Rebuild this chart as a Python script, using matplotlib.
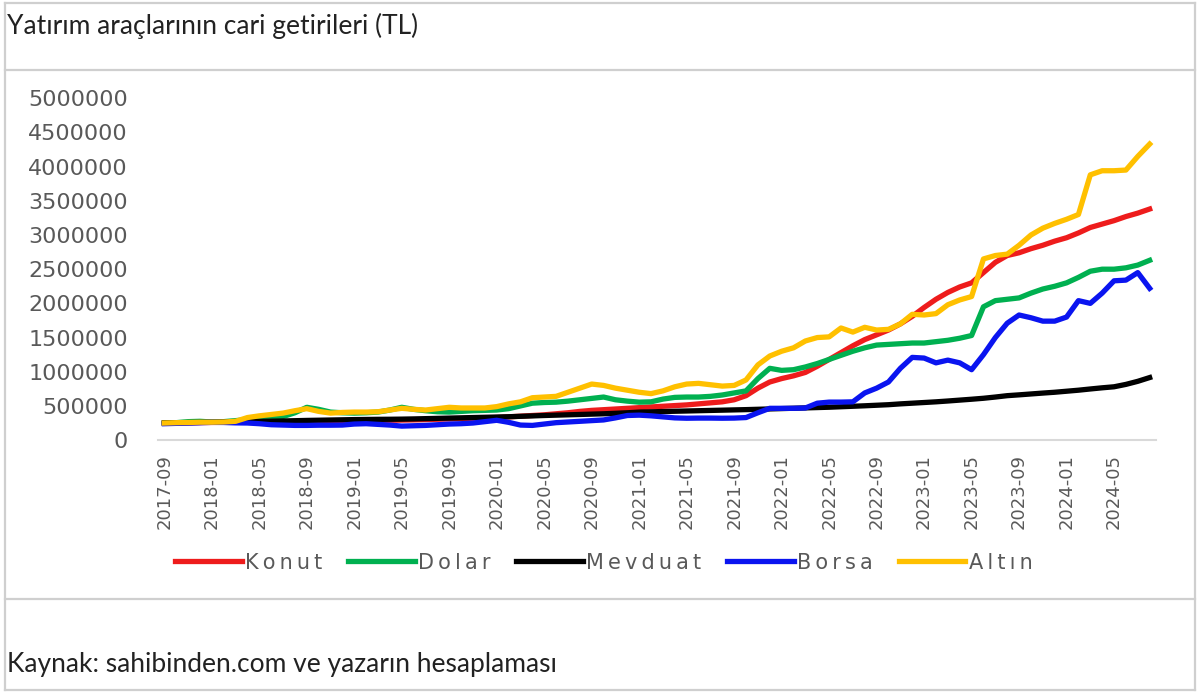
import matplotlib
matplotlib.use("Agg")
import matplotlib.pyplot as plt
import numpy as np
import pandas as pd
from matplotlib.lines import Line2D

# monthly values, 2017-09 .. 2024-08 (thousand TL)
months = pd.period_range("2017-09", periods=84, freq="M").strftime("%Y-%m").tolist()

konut = [250, 252, 254, 256, 258, 260, 262, 264, 266, 268, 270, 272, 274, 276, 278, 280,
         282, 284, 287, 290, 293, 296, 300, 305, 310, 315, 320, 325, 330, 340, 350, 360,
         370, 385, 400, 420, 435, 445, 455, 465, 475, 485, 495, 505, 515, 530, 545, 560,
         590, 650, 760, 850, 900, 940, 990, 1080, 1180, 1280, 1380, 1470, 1540, 1610, 1700, 1810,
         1940, 2060, 2160, 2240, 2300, 2450, 2600, 2700, 2740, 2800, 2850, 2910, 2960, 3030, 3110, 3160,
         3210, 3270, 3320, 3380]
dolar = [250, 255, 270, 275, 265, 270, 285, 300, 320, 330, 345, 400, 480, 450, 410, 400,
         395, 400, 410, 440, 480, 450, 430, 415, 410, 420, 430, 435, 440, 460, 500, 540,
         550, 555, 570, 590, 610, 630, 590, 570, 555, 560, 600, 625, 630, 630, 640, 660,
         690, 720, 900, 1050, 1020, 1030, 1070, 1120, 1180, 1240, 1300, 1350, 1390, 1400, 1410, 1420,
         1420, 1440, 1460, 1490, 1530, 1950, 2040, 2060, 2080, 2150, 2210, 2250, 2300, 2380, 2470, 2500,
         2500, 2520, 2560, 2630]
mevduat = [250, 253, 256, 259, 262, 265, 268, 271, 274, 277, 280, 284, 288, 291, 294, 297,
           300, 302, 304, 305, 307, 310, 314, 318, 322, 326, 330, 334, 338, 342, 348, 354,
           360, 365, 370, 375, 380, 385, 392, 400, 410, 414, 418, 422, 426, 430, 434, 438,
           442, 446, 451, 456, 461, 466, 471, 476, 481, 488, 495, 502, 510, 518, 530, 540,
           550, 560, 572, 585, 598, 612, 630, 650, 662, 675, 688, 700, 715, 730, 748, 765,
           780, 815, 860, 915]
borsa = [240, 245, 250, 255, 260, 258, 252, 250, 240, 225, 220, 215, 215, 218, 218, 220,
         235, 240, 230, 220, 205, 210, 215, 225, 235, 240, 250, 270, 290, 260, 220, 215,
         235, 255, 265, 275, 285, 295, 325, 360, 365, 355, 340, 325, 320, 322, 322, 320,
         322, 330, 400, 465, 465, 465, 470, 540, 556, 556, 560, 690, 760, 850, 1050, 1210,
         1200, 1130, 1170, 1130, 1030, 1250, 1500, 1710, 1830, 1790, 1740, 1740, 1800, 2040, 2000, 2150,
         2330, 2340, 2450, 2220]
altin = [250, 255, 258, 262, 262, 265, 275, 330, 355, 375, 395, 430, 460, 420, 395, 405,
         410, 410, 415, 440, 465, 450, 440, 460, 480, 470, 470, 470, 490, 530, 560, 620,
         630, 640, 700, 760, 820, 800, 760, 730, 700, 680, 720, 780, 820, 830, 810, 790,
         800, 880, 1100, 1230, 1300, 1350, 1450, 1500, 1510, 1640, 1580, 1650, 1610, 1620, 1700, 1840,
         1830, 1850, 1980, 2050, 2100, 2650, 2700, 2720, 2850, 3000, 3100, 3170, 3230, 3300, 3880, 3940,
         3940, 3950, 4150, 4330]

series = [("Konut", konut, "#ee1c1c"), ("Dolar", dolar, "#00b050"),
          ("Mevduat", mevduat, "#000000"), ("Borsa", borsa, "#0a14f0"),
          ("Altın", altin, "#ffc000")]

grey = "#595959"
frame = "#cfcfcf"

fig = plt.figure(figsize=(12, 6.92), dpi=100)
ax = fig.add_axes([0.132, 0.364, 0.831, 0.494])

x = np.arange(len(months))
for name, vals, col in series:
    # letter-spaced legend text like the original
    ax.plot(x, np.array(vals) * 1000, color=col, linewidth=3.8,
            label="\u2009".join(name), solid_joinstyle="round")

ax.set_xlim(-0.5, len(months) - 0.5)
ax.set_ylim(0, 5000000)
ax.set_yticks(np.arange(0, 5000001, 500000))
ax.set_yticklabels([str(v) for v in range(0, 5000001, 500000)],
                   fontsize=16, color=grey)
ax.set_xticks(x[::4])
ax.set_xticklabels(months[::4], rotation=90, fontsize=13, color=grey)
ax.tick_params(axis="y", length=0, pad=22)
ax.tick_params(axis="x", length=0, pad=10)
for s in ["top", "right", "left"]:
    ax.spines[s].set_visible(False)
ax.spines["bottom"].set_color("#d9d9d9")
ax.spines["bottom"].set_linewidth(1.5)

fig.legend(loc="center", bbox_to_anchor=(0.503, 0.187), ncol=5, frameon=False,
           fontsize=15, handlelength=3.2, handletextpad=0.15, columnspacing=1.25,
           labelcolor=grey)

# outer table frame
for y in [0.995, 0.899, 0.135, 0.003]:
    fig.add_artist(Line2D([0.004, 0.996], [y, y], color=frame, linewidth=1.6))
for xx in [0.004, 0.996]:
    fig.add_artist(Line2D([xx, xx], [0.003, 0.995], color=frame, linewidth=1.6))

fig.text(0.006, 0.962, "Yatırım araçlarının cari getirileri (TL)", fontsize=19,
         family="Lato", color="#222222", va="center")
fig.text(0.006, 0.040, "Kaynak: sahibinden.com ve yazarın hesaplaması", fontsize=19,
         family="Lato", color="#222222", va="center")

fig.savefig("out.png", dpi=100)
